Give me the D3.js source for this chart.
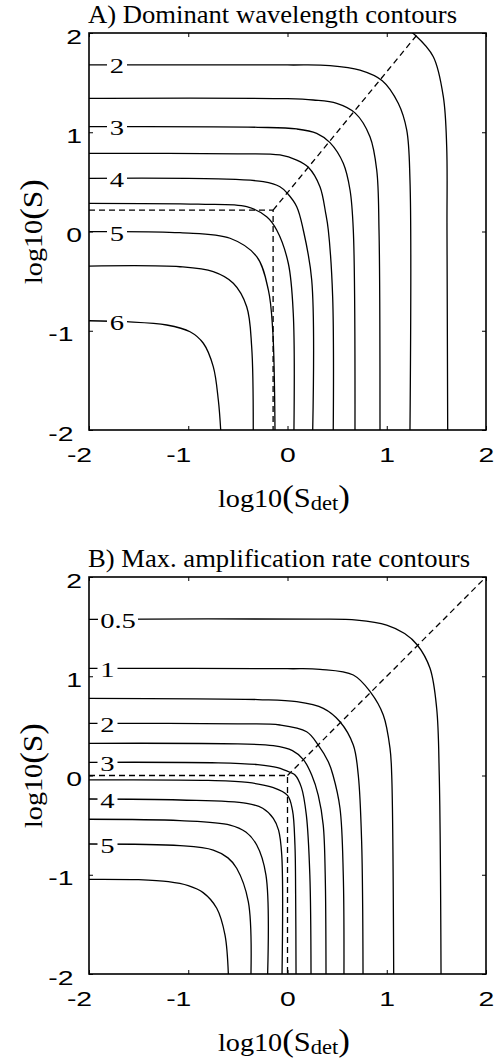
<!DOCTYPE html>
<html>
<head>
<meta charset="utf-8">
<script src="https://cdn.jsdelivr.net/npm/d3@7"></script>
<style>
body { margin: 0; background: #fff; }
svg { display: block; }
</style>
</head>
<body>
<svg width="501" height="1064"></svg>
<script>
// ---- data (log10 units) ----
var axisTicks = [-2, -1, 0, 1, 2];

// panel A: dominant wavelength contours
var wavelengthLevels = [1.5, 2, 2.5, 3, 3.5, 4, 4.5, 5, 5.5, 6];
var wavelengthLabels = [2, 3, 4, 5, 6];
var wavelengthContours = [
  [[1.20, 2.04], [1.285, 1.98], [1.469, 1.761], [1.570, 1.358], [1.604, 0.854], [1.607, 0.015], [1.614, -2]],
  [[-2, 1.678], [0.0, 1.678], [0.428, 1.672], [0.730, 1.627], [0.955, 1.52], [1.116, 1.292], [1.201, 1.023], [1.234, 0.519], [1.234, -2]],
  [[-2, 1.342], [0.0, 1.338], [0.26, 1.325], [0.496, 1.292], [0.680, 1.195], [0.831, 0.955], [0.899, 0.620], [0.922, 0.015], [0.932, -2]],
  [[-2, 1.056], [-0.3, 1.05], [0.093, 1.033], [0.294, 0.989], [0.428, 0.895], [0.562, 0.687], [0.630, 0.418], [0.663, 0.015], [0.680, -2]],
  [[-2, 0.788], [-0.5, 0.783], [-0.076, 0.771], [0.093, 0.720], [0.210, 0.647], [0.327, 0.451], [0.385, 0.183], [0.411, 0.015], [0.455, -0.657], [0.461, -2]],
  [[-2, 0.536], [-0.7, 0.53], [-0.244, 0.502], [-0.076, 0.451], [-0.002, 0.385], [0.093, 0.250], [0.159, 0.015], [0.244, -0.489], [0.254, -2]],
  [[-2, 0.284], [-0.9, 0.275], [-0.411, 0.250], [-0.210, 0.149], [-0.109, 0.015], [0.008, -0.320], [0.058, -0.824], [0.065, -2]],
  [[-2, -0.002], [-1.083, -0.012], [-0.579, -0.068], [-0.310, -0.254], [-0.193, -0.589], [-0.149, -0.992], [-0.126, -2]],
  [[-2, -0.348], [-1.083, -0.355], [-0.748, -0.405], [-0.546, -0.522], [-0.411, -0.758], [-0.361, -1.161], [-0.345, -2]],
  [[-2, -0.899], [-1.620, -0.909], [-1.217, -0.942], [-0.982, -1.010], [-0.848, -1.126], [-0.748, -1.362], [-0.697, -1.698], [-0.673, -2]]
];
var wavelengthRidge = [[-2, 0.215], [-0.145, 0.215], [-0.145, -2]];
var wavelengthDiagonal = [[-0.145, 0.215], [1.32, 2]];

// panel B: max. amplification rate contours
var rateLevels = [0.5, 1, 1.5, 2, 2.5, 3, 3.5, 4, 4.5, 5, 5.5];
var rateLabels = [0.5, 1, 2, 3, 4, 5];
var rateContours = [
  [[-2, 1.574], [0.3, 1.576], [0.7, 1.565], [0.999, 1.516], [1.18, 1.43], [1.308, 1.315], [1.436, 1.080], [1.503, 0.677], [1.529, 0.005], [1.547, -2]],
  [[-2, 1.080], [0.0, 1.076], [0.327, 1.070], [0.663, 1.013], [0.838, 0.838], [0.965, 0.610], [1.033, 0.274], [1.050, 0.005], [1.070, -2]],
  [[-2, 0.778], [-0.3, 0.765], [0.093, 0.744], [0.361, 0.677], [0.529, 0.542], [0.663, 0.307], [0.713, 0.005], [0.747, -0.667], [0.761, -2]],
  [[-2, 0.526], [-0.5, 0.52], [-0.076, 0.509], [0.193, 0.441], [0.310, 0.307], [0.411, 0.139], [0.458, 0.005], [0.529, -0.330], [0.562, -1.003], [0.569, -2]],
  [[-2, 0.324], [-0.5, 0.318], [-0.143, 0.300], [0.05, 0.25], [0.16, 0.16], [0.244, 0.005], [0.31, -0.2], [0.36, -0.5], [0.38, -1.0], [0.388, -2]],
  [[-2, 0.133], [-0.7, 0.128], [-0.3, 0.11], [-0.1, 0.08], [0.03, 0.03], [0.076, 0.005], [0.14, -0.12], [0.19, -0.4], [0.225, -1.0], [0.237, -2]],
  [[-2, -0.045], [-0.8, -0.05], [-0.4, -0.07], [-0.15, -0.12], [0.0, -0.2], [0.05, -0.35], [0.075, -0.7], [0.082, -1.2], [0.086, -2]],
  [[-2, -0.237], [-1.083, -0.247], [-0.411, -0.28], [-0.25, -0.33], [-0.143, -0.431], [-0.09, -0.55], [-0.058, -0.8], [-0.055, -2]],
  [[-2, -0.441], [-1.083, -0.455], [-0.579, -0.499], [-0.42, -0.57], [-0.31, -0.70], [-0.217, -1.003], [-0.2, -2]],
  [[-2, -0.690], [-1.083, -0.707], [-0.748, -0.751], [-0.6, -0.83], [-0.512, -0.935], [-0.395, -1.271], [-0.368, -2]],
  [[-2, -1.046], [-1.5, -1.05], [-1.2, -1.07], [-1.0, -1.11], [-0.85, -1.18], [-0.713, -1.338], [-0.63, -1.607], [-0.596, -2]]
];
var rateRidge = [[-2, 0], [0, 0], [0, -2]];
var rateDiagonal = [[0, 0], [2, 2]];

// ---- drawing ----
var svg = d3.select("svg"),
    left = 89, right = 486, size = 397,
    serif = "'Liberation Serif', 'Times New Roman', serif",
    sans = "'Liberation Sans', Arial, sans-serif";

var x = d3.scaleLinear().domain([-2, 2]).range([left, right]);

// y of a contour at a given x (left part is nearly flat)
function yAt(pts, xv) {
  for (var i = 1; i < pts.length; i++) {
    var a = pts[i - 1], b = pts[i];
    if (xv >= a[0] && xv <= b[0]) return a[1] + (b[1] - a[1]) * (xv - a[0]) / (b[0] - a[0]);
  }
  return pts[0][1];
}

function panel(opt) {
  var top = opt.top, bottom = top + size;
  var y = d3.scaleLinear().domain([-2, 2]).range([bottom, top]);
  var line = d3.line()
      .x(function (d) { return x(d[0]); })
      .y(function (d) { return y(d[1]); })
      .curve(d3.curveCatmullRom.alpha(0.5));

  svg.append("clipPath").attr("id", opt.id)
    .append("rect").attr("x", left).attr("y", top).attr("width", size).attr("height", size);

  var g = svg.append("g").attr("clip-path", "url(#" + opt.id + ")");

  g.selectAll("path.contour")
    .data(opt.contours)
    .enter().append("path")
    .attr("class", "contour")
    .attr("fill", "none")
    .attr("stroke", "#000")
    .attr("stroke-width", 1.3)
    .attr("d", line);

  [opt.ridge, opt.diag].forEach(function (p) {
    g.append("path")
      .datum(p)
      .attr("fill", "none")
      .attr("stroke", "#000")
      .attr("stroke-width", 1.3)
      .attr("stroke-dasharray", "6,4")
      .attr("d", d3.line().x(function (d) { return x(d[0]); }).y(function (d) { return y(d[1]); }));
  });

  // contour labels with a gap in the line
  opt.labels.forEach(function (lv) {
    var pts = opt.contours[opt.levels.indexOf(lv)];
    var wide = String(lv).length > 1;
    var cx = wide ? opt.labelXWide : opt.labelX,
        w = wide ? 40 : 20;
    var ly = y(yAt(pts, x.invert(cx)));
    g.append("rect")
      .attr("x", cx - w / 2).attr("y", ly - 2.5)
      .attr("width", w).attr("height", 5)
      .attr("fill", "#fff");
    g.append("text")
      .attr("transform", "translate(" + cx + "," + (ly + 8.5) + ") scale(1.3,1)")
      .attr("text-anchor", "middle")
      .attr("font-family", serif)
      .attr("font-size", 22)
      .text(lv);
  });

  // axes, ticks inside on all four sides
  var fmt = function (d) { return String(d); };
  var bx = svg.append("g").attr("transform", "translate(0," + bottom + ")")
      .call(d3.axisBottom(x).tickValues(axisTicks).tickSizeInner(-4).tickSizeOuter(0).tickFormat(fmt));
  var ly = svg.append("g").attr("transform", "translate(" + left + ",0)")
      .call(d3.axisLeft(y).tickValues(axisTicks).tickSizeInner(-4).tickSizeOuter(0).tickFormat(fmt));
  svg.append("g").attr("transform", "translate(0," + top + ")")
      .call(d3.axisTop(x).tickValues(axisTicks).tickSizeInner(-4).tickSizeOuter(0).tickFormat(""));
  svg.append("g").attr("transform", "translate(" + right + ",0)")
      .call(d3.axisRight(y).tickValues(axisTicks).tickSizeInner(-4).tickSizeOuter(0).tickFormat(""));

  svg.selectAll(".domain").remove();
  svg.selectAll(".tick line").attr("stroke", "#000");

  bx.selectAll("text")
    .attr("y", 0).attr("dy", null).attr("fill", "#000")
    .attr("font-family", sans).attr("font-size", 21)
    .attr("transform", function (d) { return "translate(" + (d < 0 ? -10 : 0) + ",32) scale(1.35,1)"; });
  ly.selectAll("text")
    .attr("x", 0).attr("dy", null).attr("fill", "#000")
    .attr("font-family", sans).attr("font-size", 21)
    .attr("transform", function (d) { return "translate(" + (d < 0 ? -15.5 : -7) + ",10) scale(1.35,1)"; });

  svg.append("rect")
    .attr("x", left).attr("y", top).attr("width", size).attr("height", size)
    .attr("fill", "none").attr("stroke", "#000").attr("stroke-width", 1.6);

  // title
  svg.append("text")
    .attr("x", 88).attr("y", top - 10)
    .attr("font-family", serif).attr("font-size", 25)
    .attr("textLength", opt.titleLen).attr("lengthAdjust", "spacingAndGlyphs")
    .text(opt.title);

  // x label: log10(S_det)
  var xl = svg.append("text")
    .attr("x", 284).attr("y", bottom + 77)
    .attr("text-anchor", "middle")
    .attr("font-family", serif)
    .attr("textLength", 132).attr("lengthAdjust", "spacingAndGlyphs");
  xl.append("tspan").attr("font-size", 25).text("log10");
  xl.append("tspan").attr("font-size", 31).text("(");
  xl.append("tspan").attr("font-size", 27).text("S");
  xl.append("tspan").attr("font-size", 20).attr("dy", 3).text("det");
  xl.append("tspan").attr("font-size", 31).attr("dy", -3).text(")");

  // y label: log10(S)
  var yl = svg.append("text")
    .attr("transform", "translate(42," + (top + size / 2) + ") rotate(-90)")
    .attr("text-anchor", "middle")
    .attr("font-family", serif)
    .attr("textLength", 105).attr("lengthAdjust", "spacingAndGlyphs");
  yl.append("tspan").attr("font-size", 25).text("log10");
  yl.append("tspan").attr("font-size", 31).text("(");
  yl.append("tspan").attr("font-size", 28).text("S");
  yl.append("tspan").attr("font-size", 31).text(")");
}

panel({
  id: "clipA", top: 33,
  title: "A) Dominant wavelength contours", titleLen: 369,
  levels: wavelengthLevels, contours: wavelengthContours, labels: wavelengthLabels,
  labelX: 117, labelXWide: 117,
  ridge: wavelengthRidge, diag: wavelengthDiagonal
});

panel({
  id: "clipB", top: 577,
  title: "B) Max. amplification rate contours", titleLen: 382,
  levels: rateLevels, contours: rateContours, labels: rateLabels,
  labelX: 107.5, labelXWide: 118,
  ridge: rateRidge, diag: rateDiagonal
});
</script>
</body>
</html>
